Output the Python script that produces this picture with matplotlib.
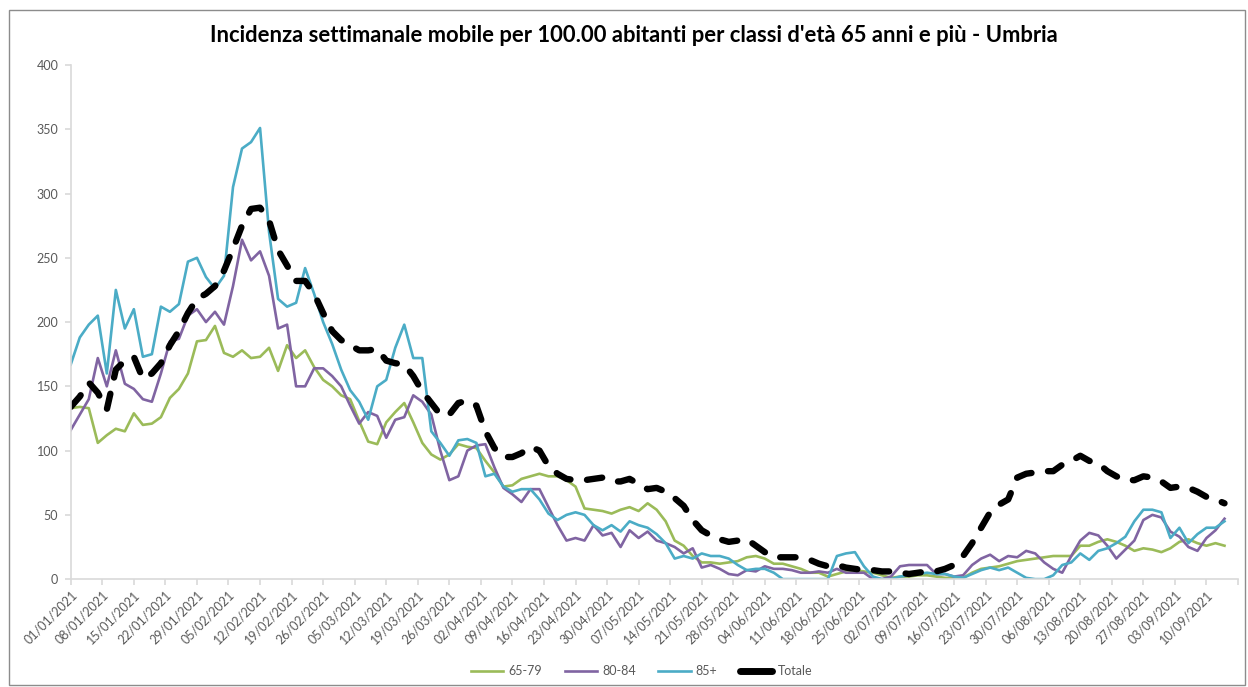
import numpy as np
import pandas as pd
import matplotlib
matplotlib.use("Agg")
import matplotlib.pyplot as plt
from matplotlib.lines import Line2D
from matplotlib.patches import Rectangle

# rolling 7-day incidence per 100k, values every 2 days (01/01/2021 .. 14/09/2021)
DATES = pd.date_range("2021-01-01", "2021-09-14", freq="2D")

INC_65_79 = [
    133, 134, 133, 106, 112, 117, 115, 129, 120, 121,
    126, 141, 148, 160, 185, 186, 197, 176, 173, 178,
    172, 173, 180, 162, 182, 172, 178, 165, 155, 150,
    143, 140, 123, 107, 105, 122, 130, 137, 122, 106,
    97, 93, 97, 105, 103, 102, 92, 83, 72, 73,
    78, 80, 82, 80, 80, 77, 72, 55, 54, 53,
    51, 54, 56, 53, 59, 54, 45, 30, 26, 18,
    13, 13, 12, 13, 14, 17, 18, 16, 12, 12,
    10, 8, 5, 5, 2, 4, 6, 7, 6, 5,
    3, 1, 2, 2, 3, 3, 2, 1, 1, 1,
    5, 8, 9, 10, 12, 14, 15, 16, 17, 18,
    18, 18, 26, 26, 29, 31, 29, 26, 22, 24,
    23, 21, 24, 29, 31, 28, 26, 28, 26,
]

INC_80_84 = [
    116, 128, 140, 172, 150, 178, 152, 148, 140, 138,
    160, 185, 187, 205, 210, 200, 208, 198, 228, 264,
    248, 255, 236, 195, 198, 150, 150, 164, 164, 158,
    150, 135, 121, 130, 127, 110, 124, 126, 143, 138,
    128, 100, 77, 80, 100, 104, 105, 87, 71, 66,
    60, 70, 70, 56, 42, 30, 32, 30, 42, 34,
    36, 25, 38, 32, 37, 30, 28, 25, 20, 24,
    9, 11, 8, 4, 3, 7, 6, 10, 8, 8,
    7, 5, 5, 6, 5, 8, 5, 5, 5, 0,
    0, 2, 10, 11, 11, 11, 4, 4, 2, 3,
    11, 16, 19, 14, 18, 17, 22, 20, 13, 8,
    5, 18, 30, 36, 34, 26, 16, 23, 30, 46,
    50, 48, 37, 33, 25, 22, 32, 38, 47,
]

INC_85_PLUS = [
    167, 188, 198, 205, 160, 225, 195, 210, 173, 175,
    212, 208, 214, 247, 250, 235, 226, 236, 305, 335,
    340, 351, 270, 218, 212, 215, 242, 222, 200, 183,
    163, 147, 138, 124, 150, 155, 180, 198, 172, 172,
    115, 106, 96, 108, 109, 106, 80, 82, 72, 68,
    70, 70, 62, 51, 46, 50, 52, 50, 42, 38,
    42, 37, 45, 42, 40, 35, 28, 16, 18, 16,
    20, 18, 18, 16, 11, 7, 8, 8, 5, 0,
    0, 0, 0, 0, 0, 18, 20, 21, 10, 2,
    0, 0, 2, 3, 4, 5, 4, 4, 2, 1,
    4, 7, 9, 7, 9, 5, 1, 0, 0, 3,
    11, 13, 20, 15, 22, 24, 28, 33, 45, 54,
    54, 52, 32, 40, 28, 35, 40, 40, 45,
]

INC_TOTALE = [
    134, 142, 153, 145, 132, 163, 170, 173, 156, 160,
    168, 182, 193, 207, 218, 222, 228, 240, 257, 275,
    288, 289, 279, 256, 244, 232, 232, 222, 207, 193,
    186, 182, 178, 178, 179, 170, 168, 167, 158, 146,
    137, 128, 128, 137, 139, 135, 115, 102, 95, 95,
    98, 103, 100, 88, 82, 78, 77, 77, 78, 79,
    76, 76, 78, 74, 70, 71, 68, 63, 57, 46,
    38, 34, 31, 29, 30, 31, 26, 21, 17, 17,
    17, 17, 15, 12, 10, 11, 9, 8, 7, 7,
    6, 6, 5, 4, 5, 6, 6, 8, 11, 18,
    28, 40, 52, 58, 62, 79, 82, 83, 84, 84,
    89, 92, 96, 92, 90, 84, 80, 77, 77, 80,
    79, 76, 71, 72, 71, 68, 64, 62, 59,
]

SERIES = [
    ("65-79", INC_65_79, "#9BBB59"),
    ("80-84", INC_80_84, "#8064A2"),
    ("85+", INC_85_PLUS, "#4BACC6"),
]

TITLE = "Incidenza settimanale mobile per 100.00 abitanti per classi d'età 65 anni e più - Umbria"

plt.rcParams["font.family"] = ["Lato", "DejaVu Sans"]
TXT = "#595959"
AXC = "#D9D9D9"

fig = plt.figure(figsize=(12.48, 6.87), dpi=100)
ax = fig.add_axes([0.0567, 0.157, 0.9353, 0.7484])

handles = []
for name, vals, col in SERIES:
    ln, = ax.plot(DATES, vals, color=col, lw=1.9, label=name)
    handles.append(ln)
ax.plot(DATES, INC_TOTALE, color="black", lw=4.6, dashes=(2.4, 2.6),
        dash_capstyle="round")
handles.append(Line2D([], [], color="black", lw=5, solid_capstyle="round", label="Totale"))

start = pd.Timestamp("2021-01-01")
end = pd.Timestamp("2021-09-17")
ax.set_xlim(start, end)
ax.set_ylim(0, 400)
ax.set_yticks(np.arange(0, 401, 50))

week_ticks = pd.date_range(start, end, freq="7D")
ax.set_xticks(week_ticks)
ax.set_xticklabels([d.strftime("%d/%m/%Y") if d < end else "" for d in week_ticks],
                   rotation=45, ha="right", va="top", rotation_mode="anchor")

for s in ("top", "right"):
    ax.spines[s].set_visible(False)
for s in ("left", "bottom"):
    ax.spines[s].set_color(AXC)
    ax.spines[s].set_linewidth(1.2)
ax.tick_params(axis="both", colors=AXC, labelcolor=TXT, labelsize=9, length=4, width=1.2)
ax.tick_params(axis="x", pad=3)
ax.tick_params(axis="y", pad=5)

fig.text(0.508, 0.948, TITLE, ha="center", va="center", fontsize=15.8,
         fontweight="bold", color="black")

leg = fig.legend(handles=handles, loc="center", bbox_to_anchor=(0.514, 0.023), ncol=4,
                 frameon=False, fontsize=9, handlelength=2.6, columnspacing=1.8,
                 handletextpad=0.4)
for t in leg.get_texts():
    t.set_color(TXT)

fig.patches.append(Rectangle((9 / 1248, 2 / 687), 1236 / 1248, 675 / 687,
                             transform=fig.transFigure, fill=False,
                             edgecolor="#8C8C8C", lw=1.0))

fig.savefig("out.png", dpi=100, facecolor="white")
